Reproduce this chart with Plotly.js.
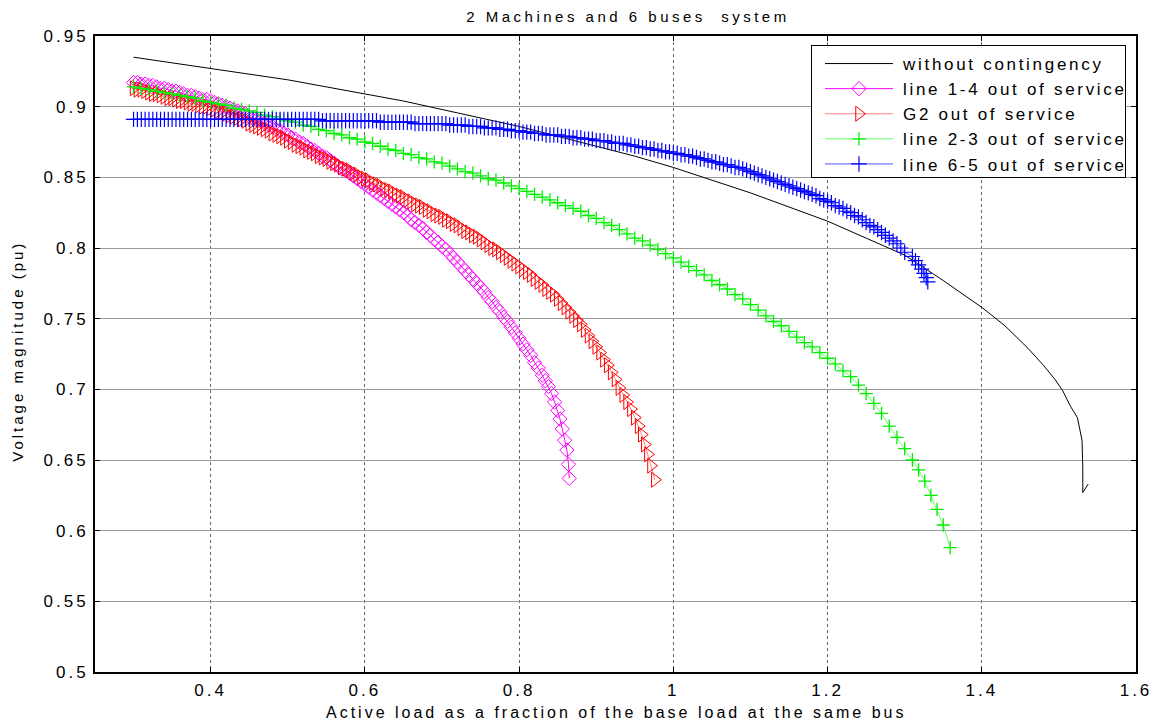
<!DOCTYPE html>
<html>
<head>
<meta charset="utf-8">
<script src="https://cdn.plot.ly/plotly-3.0.1.min.js"></script>
<style>
  html, body { margin: 0; padding: 0; background: #fff; }
  #chart { width: 1163px; height: 725px; }
  #chart .xtick text, #chart .ytick text { letter-spacing: 3px; }
  #chart .gtitle { letter-spacing: 3.5px; }
  #chart .legendtext { letter-spacing: 2.7px; }
  #chart .annotation-text { letter-spacing: 3px; }
</style>
</head>
<body>
<div id="chart"></div>
<script>
// Load fraction grid shared by the densely sampled cases (0.300 ... 1.300).
const loadGrid = [
  0.300, 0.305, 0.310, 0.315, 0.320, 0.325, 0.330, 0.335, 0.340, 0.345, 0.350, 0.355, 0.360, 0.365, 0.370, 0.375, 0.380, 0.385, 0.390, 0.395,
  0.400, 0.405, 0.410, 0.415, 0.420, 0.425, 0.430, 0.435, 0.440, 0.445, 0.450, 0.455, 0.460, 0.465, 0.470, 0.475, 0.480, 0.485, 0.490, 0.495,
  0.500, 0.505, 0.510, 0.515, 0.520, 0.525, 0.530, 0.535, 0.540, 0.545, 0.550, 0.555, 0.560, 0.565, 0.570, 0.575, 0.580, 0.585, 0.590, 0.595,
  0.600, 0.605, 0.610, 0.615, 0.620, 0.625, 0.630, 0.635, 0.640, 0.645, 0.650, 0.655, 0.660, 0.665, 0.670, 0.675, 0.680, 0.685, 0.690, 0.695,
  0.700, 0.705, 0.710, 0.715, 0.720, 0.725, 0.730, 0.735, 0.740, 0.745, 0.750, 0.755, 0.760, 0.765, 0.770, 0.775, 0.780, 0.785, 0.790, 0.795,
  0.800, 0.805, 0.810, 0.815, 0.820, 0.825, 0.830, 0.835, 0.840, 0.845, 0.850, 0.855, 0.860, 0.865, 0.870, 0.875, 0.880, 0.885, 0.890, 0.895,
  0.900, 0.905, 0.910, 0.915, 0.920, 0.925, 0.930, 0.935, 0.940, 0.945, 0.950, 0.955, 0.960, 0.965, 0.970, 0.975, 0.980, 0.985, 0.990, 0.995,
  1.000, 1.005, 1.010, 1.015, 1.020, 1.025, 1.030, 1.035, 1.040, 1.045, 1.050, 1.055, 1.060, 1.065, 1.070, 1.075, 1.080, 1.085, 1.090, 1.095,
  1.100, 1.105, 1.110, 1.115, 1.120, 1.125, 1.130, 1.135, 1.140, 1.145, 1.150, 1.155, 1.160, 1.165, 1.170, 1.175, 1.180, 1.185, 1.190, 1.195,
  1.200, 1.205, 1.210, 1.215, 1.220, 1.225, 1.230, 1.235, 1.240, 1.245, 1.250, 1.255, 1.260, 1.265, 1.270, 1.275, 1.280, 1.285, 1.290, 1.295,
  1.300];

// Base case: load fraction and voltage (pu).
const baseX = [0.30, 0.35, 0.40, 0.45, 0.50, 0.55, 0.60, 0.65, 0.70, 0.75, 0.80, 0.85, 0.90, 0.95, 1.00,
  1.05, 1.10, 1.15, 1.20, 1.25, 1.30, 1.35, 1.40, 1.43, 1.46, 1.48, 1.495, 1.505, 1.515, 1.524, 1.530, 1.531, 1.531, 1.538];
const baseV = [0.935, 0.931, 0.927, 0.923, 0.919, 0.914, 0.909, 0.904, 0.898, 0.892, 0.886, 0.879, 0.872, 0.865, 0.857,
  0.848, 0.839, 0.829, 0.819, 0.807, 0.795, 0.777, 0.758, 0.745, 0.729, 0.717, 0.707, 0.699, 0.688, 0.680, 0.664, 0.645, 0.627, 0.633];

// Line 1-4 out: voltages on loadGrid up to 0.830, then the tail near collapse.
const line14V = [
  0.917, 0.917, 0.916, 0.916, 0.915, 0.915, 0.914, 0.913, 0.913, 0.912, 0.911, 0.911, 0.910, 0.909, 0.908, 0.908, 0.907, 0.906, 0.905, 0.905,
  0.904, 0.903, 0.902, 0.901, 0.900, 0.899, 0.898, 0.897, 0.896, 0.895, 0.893, 0.892, 0.891, 0.890, 0.888, 0.887, 0.886, 0.884, 0.883, 0.881,
  0.880, 0.878, 0.877, 0.875, 0.874, 0.872, 0.870, 0.869, 0.867, 0.865, 0.864, 0.862, 0.860, 0.858, 0.856, 0.855, 0.853, 0.851, 0.849, 0.847,
  0.845, 0.843, 0.841, 0.839, 0.837, 0.835, 0.833, 0.831, 0.829, 0.827, 0.825, 0.823, 0.820, 0.818, 0.816, 0.814, 0.811, 0.809, 0.806, 0.804,
  0.801, 0.799, 0.796, 0.793, 0.790, 0.787, 0.784, 0.781, 0.778, 0.775, 0.772, 0.769, 0.765, 0.762, 0.758, 0.755, 0.751, 0.748, 0.744, 0.740,
  0.736, 0.732, 0.728, 0.724, 0.719, 0.715, 0.710];
const line14TailX = [0.834, 0.838, 0.842, 0.846, 0.850, 0.853, 0.856, 0.859, 0.862, 0.864, 0.865];
const line14TailV = [0.706, 0.702, 0.697, 0.691, 0.685, 0.679, 0.672, 0.664, 0.657, 0.647, 0.637];

// G2 out: voltages on loadGrid up to 0.940, then the tail.
const g2V = [
  0.913, 0.912, 0.912, 0.911, 0.910, 0.909, 0.909, 0.908, 0.907, 0.906, 0.906, 0.905, 0.904, 0.904, 0.903, 0.902, 0.902, 0.901, 0.900, 0.900,
  0.899, 0.898, 0.897, 0.896, 0.895, 0.894, 0.893, 0.892, 0.891, 0.890, 0.888, 0.887, 0.886, 0.885, 0.884, 0.883, 0.881, 0.880, 0.879, 0.878,
  0.876, 0.875, 0.873, 0.872, 0.871, 0.869, 0.868, 0.867, 0.865, 0.864, 0.863, 0.861, 0.860, 0.859, 0.857, 0.856, 0.855, 0.853, 0.852, 0.850,
  0.849, 0.848, 0.846, 0.845, 0.844, 0.842, 0.841, 0.840, 0.838, 0.837, 0.836, 0.834, 0.833, 0.831, 0.830, 0.829, 0.827, 0.826, 0.824, 0.823,
  0.822, 0.820, 0.819, 0.817, 0.816, 0.814, 0.812, 0.811, 0.809, 0.808, 0.806, 0.804, 0.802, 0.800, 0.799, 0.797, 0.795, 0.793, 0.791, 0.789,
  0.787, 0.785, 0.783, 0.781, 0.778, 0.776, 0.774, 0.771, 0.769, 0.767, 0.764, 0.761, 0.758, 0.755, 0.752, 0.749, 0.746, 0.742, 0.738, 0.734,
  0.730, 0.726, 0.721, 0.717, 0.712, 0.707, 0.701, 0.696, 0.691];
const g2TailX = [0.945, 0.950, 0.955, 0.959, 0.963, 0.967, 0.971, 0.976];
const g2TailV = [0.686, 0.680, 0.674, 0.668, 0.661, 0.654, 0.646, 0.636];

// Line 2-3 out: coarser sampling.
const line23X = [0.30, 0.31, 0.32, 0.33, 0.34, 0.35, 0.36, 0.37, 0.38, 0.39, 0.40, 0.41, 0.42, 0.43, 0.44, 0.45, 0.46, 0.47, 0.48, 0.49,
  0.50, 0.51, 0.52, 0.53, 0.54, 0.55, 0.56, 0.57, 0.58, 0.59, 0.60, 0.61, 0.62, 0.63, 0.64, 0.65, 0.66, 0.67, 0.68, 0.69,
  0.70, 0.71, 0.72, 0.73, 0.74, 0.75, 0.76, 0.77, 0.78, 0.79, 0.80, 0.81, 0.82, 0.83, 0.84, 0.85, 0.86, 0.87, 0.88, 0.89,
  0.90, 0.91, 0.92, 0.93, 0.94, 0.95, 0.96, 0.97, 0.98, 0.99, 1.00, 1.01, 1.02, 1.03, 1.04, 1.05, 1.06, 1.07, 1.08, 1.09,
  1.10, 1.11, 1.12, 1.13, 1.14, 1.15, 1.16, 1.17, 1.18, 1.19, 1.20, 1.21, 1.22, 1.23, 1.24, 1.25, 1.26, 1.27, 1.28, 1.29,
  1.30, 1.31, 1.318, 1.326, 1.334, 1.342, 1.350, 1.359];
const line23V = [0.914, 0.913, 0.912, 0.911, 0.910, 0.909, 0.908, 0.907, 0.906, 0.904, 0.903, 0.902, 0.901, 0.899, 0.898, 0.897, 0.896, 0.894, 0.893, 0.891,
  0.890, 0.889, 0.887, 0.886, 0.884, 0.883, 0.881, 0.880, 0.878, 0.877, 0.875, 0.874, 0.872, 0.870, 0.869, 0.867, 0.866, 0.864, 0.863, 0.861,
  0.860, 0.858, 0.856, 0.854, 0.853, 0.851, 0.849, 0.848, 0.846, 0.844, 0.842, 0.840, 0.838, 0.836, 0.834, 0.832, 0.830, 0.828, 0.826, 0.823,
  0.821, 0.818, 0.816, 0.813, 0.810, 0.807, 0.805, 0.802, 0.799, 0.796, 0.793, 0.790, 0.787, 0.784, 0.781, 0.777, 0.774, 0.771, 0.767, 0.764,
  0.760, 0.756, 0.752, 0.748, 0.745, 0.741, 0.737, 0.733, 0.730, 0.726, 0.722, 0.718, 0.713, 0.709, 0.703, 0.697, 0.690, 0.683, 0.674, 0.666,
  0.658, 0.650, 0.643, 0.635, 0.625, 0.615, 0.604, 0.588];

// Line 6-5 out: voltages on the whole loadGrid, then the tail.
const line65V = [
  0.891, 0.891, 0.891, 0.891, 0.891, 0.891, 0.891, 0.891, 0.891, 0.891, 0.891, 0.891, 0.891, 0.891, 0.891, 0.891, 0.891, 0.891, 0.891, 0.891,
  0.891, 0.891, 0.891, 0.891, 0.891, 0.891, 0.891, 0.891, 0.891, 0.891, 0.891, 0.891, 0.891, 0.891, 0.891, 0.891, 0.891, 0.891, 0.891, 0.891,
  0.891, 0.891, 0.891, 0.891, 0.891, 0.891, 0.891, 0.891, 0.891, 0.890, 0.890, 0.890, 0.890, 0.890, 0.890, 0.890, 0.890, 0.890, 0.890, 0.890,
  0.890, 0.890, 0.890, 0.890, 0.889, 0.889, 0.889, 0.889, 0.889, 0.889, 0.889, 0.889, 0.889, 0.888, 0.888, 0.888, 0.888, 0.888, 0.888, 0.888,
  0.888, 0.888, 0.887, 0.887, 0.887, 0.887, 0.887, 0.886, 0.886, 0.886, 0.886, 0.885, 0.885, 0.885, 0.885, 0.884, 0.884, 0.884, 0.883, 0.883,
  0.883, 0.882, 0.882, 0.882, 0.881, 0.881, 0.881, 0.880, 0.880, 0.880, 0.880, 0.879, 0.879, 0.879, 0.878, 0.878, 0.878, 0.877, 0.877, 0.877,
  0.876, 0.876, 0.876, 0.875, 0.875, 0.874, 0.874, 0.874, 0.873, 0.873, 0.872, 0.872, 0.871, 0.871, 0.870, 0.870, 0.869, 0.869, 0.868, 0.868,
  0.867, 0.867, 0.866, 0.866, 0.865, 0.865, 0.864, 0.863, 0.863, 0.862, 0.861, 0.861, 0.860, 0.859, 0.859, 0.858, 0.857, 0.857, 0.856, 0.855,
  0.854, 0.853, 0.852, 0.851, 0.850, 0.849, 0.848, 0.847, 0.846, 0.845, 0.844, 0.843, 0.842, 0.841, 0.840, 0.839, 0.838, 0.837, 0.835, 0.834,
  0.833, 0.832, 0.830, 0.829, 0.828, 0.826, 0.825, 0.823, 0.822, 0.820, 0.818, 0.816, 0.815, 0.813, 0.811, 0.809, 0.807, 0.805, 0.803, 0.800,
  0.797];
const line65TailX = [1.310, 1.314, 1.318, 1.322, 1.325, 1.328, 1.330];
const line65TailV = [0.794, 0.791, 0.788, 0.785, 0.782, 0.779, 0.776];

const seriesNames = ['without contingency', 'line 1-4 out of service', 'G2 out of service',
  'line 2-3 out of service', 'line 6-5 out of service'];
const xTicks = [0.4, 0.6, 0.8, 1, 1.2, 1.4, 1.6];
const yTicks = [0.5, 0.55, 0.6, 0.65, 0.7, 0.75, 0.8, 0.85, 0.9, 0.95];
const chartTitle = '2 Machines and 6 buses  system';
const xLabel = 'Active load as a fraction of the base load at the same bus';
const yLabel = 'Voltage magnitude (pu)';

const FONT = 'Liberation Sans, Arial, Helvetica, sans-serif';

// Grid prefix matching a voltage list, followed by its tail points.
function onGrid(values, tailX) {
  return loadGrid.slice(0, values.length).concat(tailX || []);
}

const traces = [
  { x: baseX, y: baseV, name: seriesNames[0], mode: 'lines',
    line: { color: '#000000', width: 1 } },
  { x: onGrid(line14V, line14TailX), y: line14V.concat(line14TailV), name: seriesNames[1], mode: 'lines+markers',
    line: { color: '#ff00ff', width: 1 },
    marker: { symbol: 'diamond-open', size: 11, color: '#ff00ff', line: { width: 1 } } },
  { x: onGrid(g2V, g2TailX), y: g2V.concat(g2TailV), name: seriesNames[2], mode: 'lines+markers',
    line: { color: '#ff8080', width: 1 },
    marker: { symbol: 'triangle-right-open', size: 13, color: '#ff0000', line: { width: 1 } } },
  { x: line23X, y: line23V, name: seriesNames[3], mode: 'lines+markers',
    line: { color: '#66ff66', width: 1 },
    marker: { symbol: 'cross-thin-open', size: 9.5, color: '#00ee00', line: { width: 1.3, color: '#00ee00' } } },
  { x: onGrid(line65V, line65TailX), y: line65V.concat(line65TailV), name: seriesNames[4], mode: 'lines+markers',
    line: { color: '#5555ff', width: 1 },
    marker: { symbol: 'cross-thin-open', size: 11, color: '#0000ff', line: { width: 1.2, color: '#0000ff' } } }
];

const axisCommon = {
  showline: true, linecolor: '#000', linewidth: 2, mirror: 'allticks',
  ticks: 'inside', ticklen: 5, tickwidth: 1, tickcolor: '#000',
  zeroline: false, showgrid: true,
  tickfont: { family: FONT, size: 17, color: '#000' }
};

const layout = {
  width: 1163, height: 725,
  margin: { l: 95, r: 27, t: 36, b: 53 },
  paper_bgcolor: '#fff', plot_bgcolor: '#fff',
  title: { text: chartTitle, xref: 'paper', x: 0.512, xanchor: 'center', y: 0.977, yanchor: 'middle',
    font: { family: FONT, size: 15, color: '#000' } },
  xaxis: Object.assign({}, axisCommon, {
    range: [0.25, 1.6], tickvals: xTicks, ticktext: xTicks.map(String),
    gridcolor: '#666', griddash: 'dot', gridwidth: 1, ticklabelstandoff: 2
  }),
  yaxis: Object.assign({}, axisCommon, {
    range: [0.5, 0.95], tickvals: yTicks, ticktext: yTicks.map(String),
    gridcolor: '#9a9a9a', gridwidth: 1, ticklabelstandoff: 1
  }),
  annotations: [
    { text: xLabel, xref: 'paper', yref: 'paper', x: 0.5, y: -0.063, xanchor: 'center', yanchor: 'middle',
      showarrow: false, font: { family: FONT, size: 16, color: '#000' } },
    { text: yLabel, xref: 'paper', yref: 'paper', x: -0.074, y: 0.505, xanchor: 'center', yanchor: 'middle',
      textangle: -90, showarrow: false, font: { family: FONT, size: 15, color: '#000' } }
  ],
  legend: {
    x: 0.9894, xanchor: 'right', y: 0.986, yanchor: 'top',
    bgcolor: '#fff', bordercolor: '#000', borderwidth: 1,
    font: { family: FONT, size: 17, color: '#000' },
    tracegroupgap: 0, itemwidth: 81
  },
  showlegend: true
};

const gd = document.getElementById('chart');
Plotly.newPlot(gd, traces, layout, { displayModeBar: false, staticPlot: true }).then(() => {
  const legendW = 314, legendH = 132;
  const leg = gd.querySelector('g.legend');
  if (!leg) return;
  // Box placement and size for the letter-spaced entries.
  leg.setAttribute('transform', 'translate(811,45)');
  const bg = leg.querySelector('rect.bg');
  if (bg) { bg.setAttribute('width', legendW); bg.setAttribute('height', legendH); }
  const box = leg.querySelector('.scrollbox');
  const clip = box && box.getAttribute('clip-path');
  const m = clip && clip.match(/#([^)"']+)/);
  const clipEl = m && document.getElementById(m[1]);
  if (clipEl) {
    clipEl.querySelectorAll('rect').forEach(r => { r.setAttribute('width', legendW); r.setAttribute('height', legendH); });
  }
  // Longer sample lines with the symbol centred on them.
  leg.querySelectorAll('.traces').forEach(item => {
    item.querySelectorAll('.legendlines path').forEach(p => p.setAttribute('d', 'M13,0h68'));
    item.querySelectorAll('.legendpoints path.scatterpts').forEach(p => p.setAttribute('transform', 'translate(47,0)'));
  });
});
</script>
</body>
</html>
